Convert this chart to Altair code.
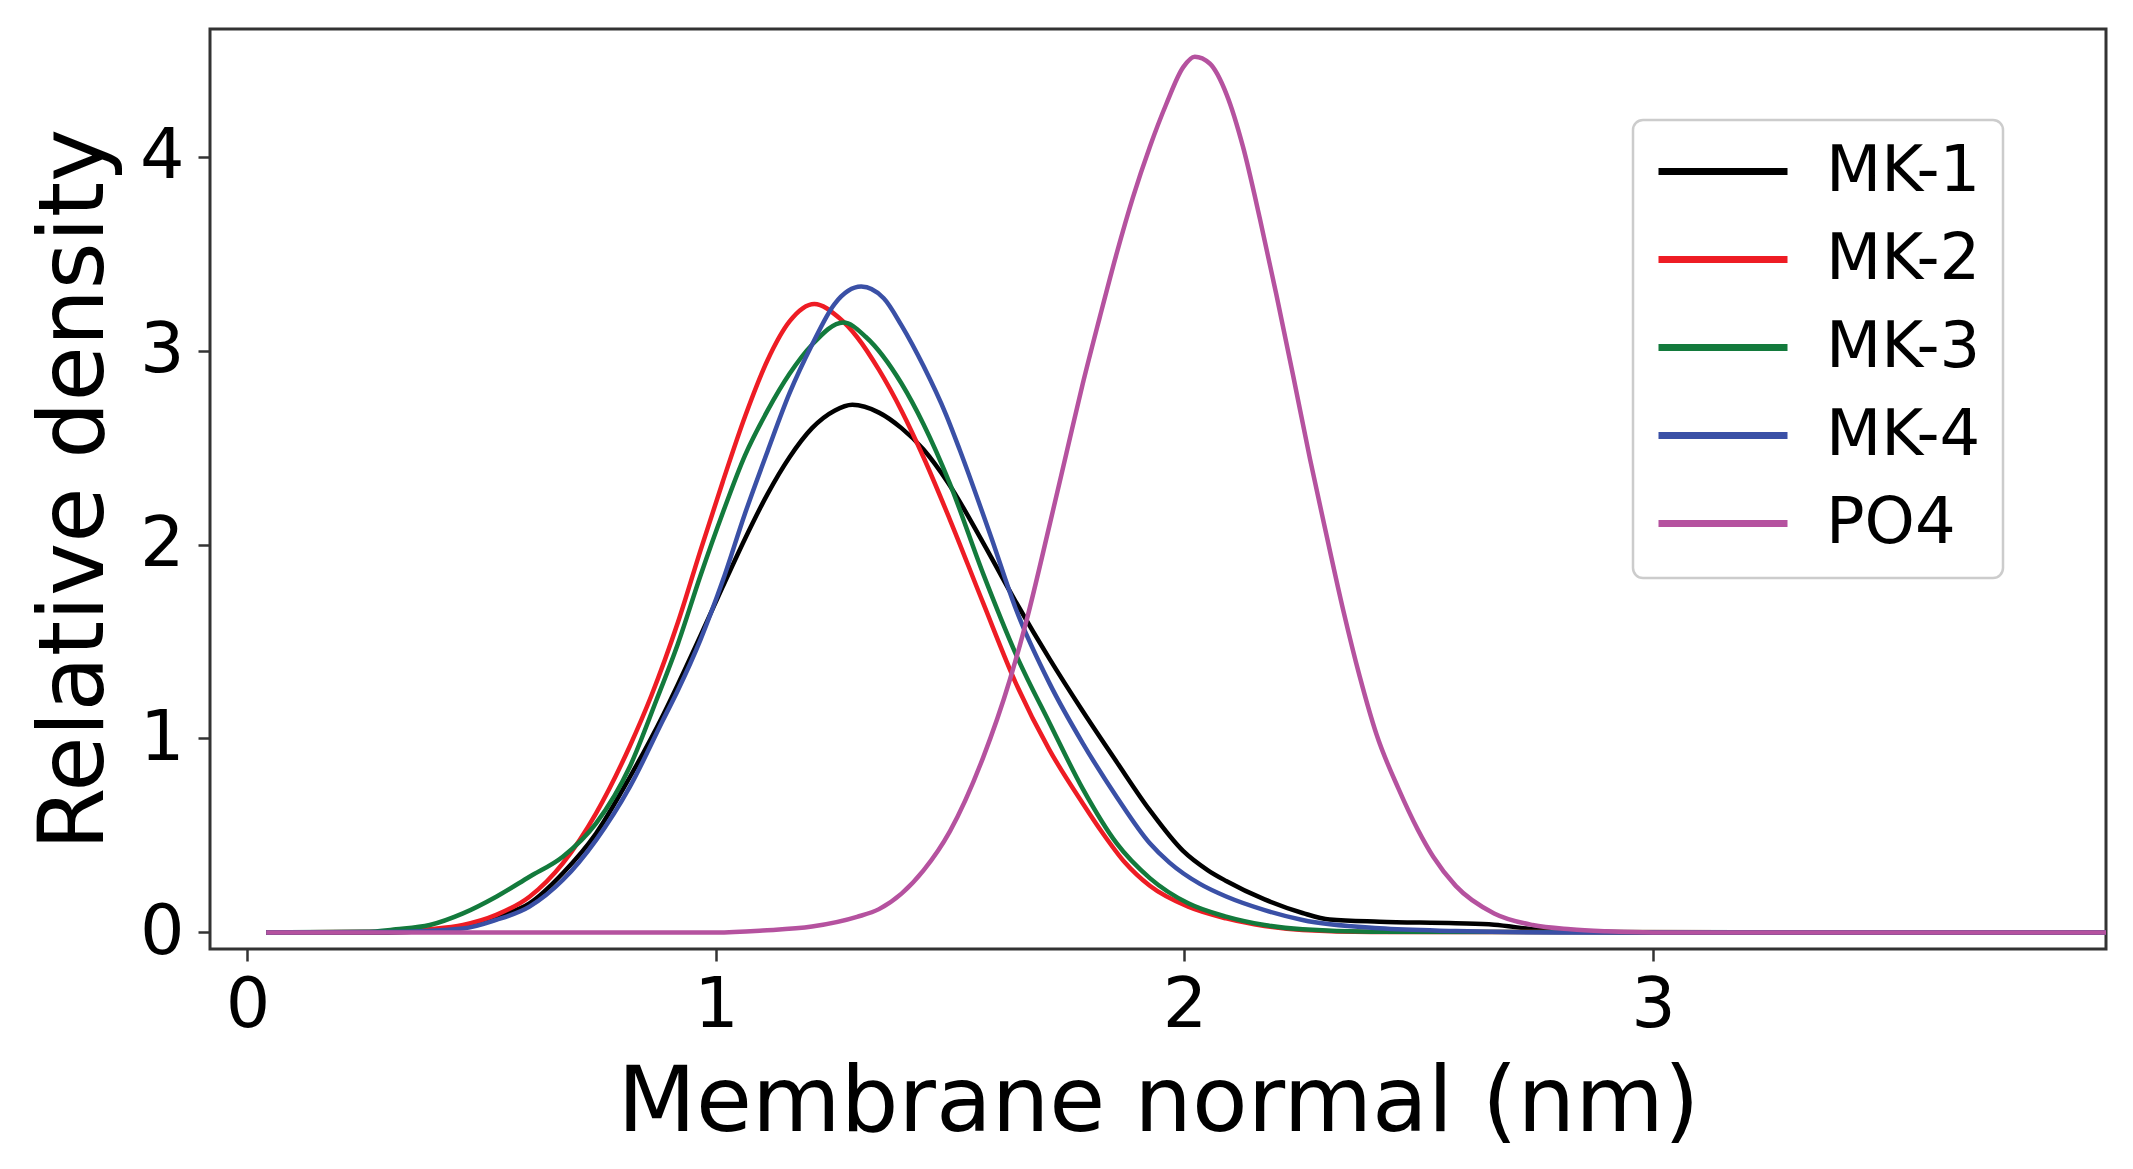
import altair as alt
import pandas as pd

# ---- data ----
series_names = ["MK-1", "MK-2", "MK-3", "MK-4", "PO4"]
series_colors = ["#000000", "#ee1c24", "#137a3c", "#3a50a6", "#b5529f"]

mk1_x = [0.04, 0.30, 0.46, 0.531, 0.602, 0.673, 0.744, 0.816, 0.887, 0.919, 0.967, 1.014, 1.062,
         1.110, 1.157, 1.205, 1.253, 1.291, 1.348, 1.396, 1.443, 1.495, 1.570, 1.641, 1.712,
         1.783, 1.855, 1.926, 1.997, 2.05, 2.089, 2.171, 2.252, 2.310, 2.416, 2.579, 2.661,
         2.743, 2.824, 3.0, 3.967]
mk1_y = [0.0, 0.0, 0.03, 0.081, 0.15, 0.305, 0.51, 0.80, 1.12, 1.28, 1.53, 1.78, 2.03,
         2.26, 2.45, 2.60, 2.69, 2.72, 2.68, 2.60, 2.49, 2.32, 2.01, 1.70, 1.41,
         1.14, 0.88, 0.63, 0.42, 0.32, 0.265, 0.17, 0.10, 0.066, 0.055, 0.047, 0.04,
         0.016, 0.003, 0.0, 0.0]

mk2_x = [0.04, 0.30, 0.389, 0.46, 0.531, 0.602, 0.673, 0.744, 0.816, 0.862, 0.919, 0.967, 1.014,
         1.062, 1.110, 1.157, 1.21, 1.262, 1.301, 1.348, 1.396, 1.443, 1.499, 1.570, 1.641,
         1.712, 1.783, 1.826, 1.873, 1.926, 2.008, 2.089, 2.171, 2.252, 2.40, 3.967]
mk2_y = [0.0, 0.003, 0.016, 0.038, 0.09, 0.184, 0.356, 0.614, 0.96, 1.22, 1.60, 1.97, 2.32,
         2.66, 2.95, 3.15, 3.24, 3.17, 3.07, 2.90, 2.69, 2.45, 2.13, 1.70, 1.28,
         0.94, 0.665, 0.51, 0.36, 0.24, 0.132, 0.072, 0.033, 0.012, 0.002, 0.0]

mk3_x = [0.04, 0.25, 0.317, 0.389, 0.46, 0.531, 0.602, 0.673, 0.744, 0.816, 0.873, 0.919, 0.967,
         1.014, 1.062, 1.110, 1.157, 1.205, 1.272, 1.32, 1.396, 1.443, 1.499, 1.570, 1.641,
         1.712, 1.783, 1.855, 1.926, 2.008, 2.089, 2.171, 2.252, 2.40, 3.967]
mk3_y = [0.0, 0.003, 0.016, 0.038, 0.098, 0.184, 0.287, 0.39, 0.562, 0.854, 1.198, 1.49, 1.84,
         2.16, 2.46, 2.69, 2.88, 3.03, 3.145, 3.07, 2.83, 2.62, 2.315, 1.851, 1.43,
         1.08, 0.74, 0.46, 0.28, 0.15, 0.081, 0.038, 0.016, 0.003, 0.0]

mk4_x = [0.04, 0.30, 0.46, 0.531, 0.602, 0.673, 0.744, 0.816, 0.887, 0.919, 0.967, 1.014, 1.062,
         1.110, 1.157, 1.205, 1.253, 1.31, 1.358, 1.396, 1.443, 1.491, 1.520, 1.587, 1.641,
         1.712, 1.783, 1.855, 1.926, 1.968, 2.033, 2.089, 2.171, 2.252, 2.416, 2.579, 2.8, 3.967]
mk4_y = [0.0, 0.002, 0.02, 0.064, 0.133, 0.27, 0.476, 0.75, 1.095, 1.25, 1.51, 1.81, 2.16,
         2.48, 2.78, 3.03, 3.24, 3.33, 3.27, 3.13, 2.92, 2.67, 2.49, 2.04, 1.662,
         1.284, 0.975, 0.70, 0.46, 0.36, 0.25, 0.185, 0.115, 0.064, 0.021, 0.007, 0.0, 0.0]

po4_x = [0.04, 1.0, 1.1, 1.205, 1.301, 1.348, 1.396, 1.443, 1.499, 1.570, 1.627, 1.662, 1.712,
         1.748, 1.782, 1.819, 1.854, 1.890, 1.926, 1.961, 1.997, 2.022, 2.054, 2.090, 2.125,
         2.161, 2.196, 2.232, 2.268, 2.303, 2.339, 2.374, 2.410, 2.457, 2.498, 2.531, 2.579,
         2.661, 2.743, 2.824, 2.9, 3.0, 3.967]
po4_y = [0.0, 0.0, 0.01, 0.03, 0.08, 0.12, 0.20, 0.32, 0.52, 0.90, 1.30, 1.60, 2.10,
         2.47, 2.82, 3.17, 3.49, 3.79, 4.05, 4.27, 4.46, 4.515, 4.48, 4.32, 4.05,
         3.68, 3.29, 2.87, 2.44, 2.05, 1.66, 1.32, 1.02, 0.74, 0.53, 0.39, 0.24,
         0.098, 0.038, 0.016, 0.006, 0.0, 0.0]

x_ticks = [0, 1, 2, 3]
y_ticks = [0, 1, 2, 3, 4]

all_x = [mk1_x, mk2_x, mk3_x, mk4_x, po4_x]
all_y = [mk1_y, mk2_y, mk3_y, mk4_y, po4_y]

rows = []
for name, xs, ys in zip(series_names, all_x, all_y):
    for xv, yv in zip(xs, ys):
        rows.append({"x": xv, "y": yv, "series": name})
df = pd.DataFrame(rows)

FONT = "DejaVu Sans"

chart = alt.Chart(df).mark_line(strokeWidth=4.5, interpolate="monotone", clip=True).encode(
    x=alt.X("x:Q",
            scale=alt.Scale(domain=[-0.08, 3.967], nice=False, zero=False),
            axis=alt.Axis(values=x_ticks, title="Membrane normal (nm)", format="d",
                          grid=False, domain=False, tickSize=12, tickWidth=2.5,
                          tickColor="#333333", labelFontSize=70, labelFont=FONT,
                          labelColor="#000000", labelPadding=10,
                          titleFontSize=91, titleFont=FONT, titleFontWeight="normal",
                          titleColor="#000000", titlePadding=18)),
    y=alt.Y("y:Q",
            scale=alt.Scale(domain=[-0.0856, 4.658], nice=False, zero=False),
            axis=alt.Axis(values=y_ticks, title="Relative density", format="d",
                          grid=False, domain=False, tickSize=12, tickWidth=2.5,
                          tickColor="#333333", labelFontSize=70, labelFont=FONT,
                          labelColor="#000000", labelPadding=14,
                          titleFontSize=90, titleFont=FONT, titleFontWeight="normal",
                          titleColor="#000000", titlePadding=18)),
    color=alt.Color("series:N",
                    scale=alt.Scale(domain=series_names, range=series_colors),
                    sort=series_names,
                    legend=alt.Legend(title=None, orient="none", legendX=1423, legendY=91,
                                      symbolType="stroke", symbolSize=16641,
                                      symbolStrokeWidth=7, labelFontSize=64,
                                      labelFont=FONT, labelColor="#000000",
                                      labelOffset=35, padding=22, rowPadding=23,
                                      clipHeight=59,
                                      strokeColor="#cccccc", fillColor="#ffffff",
                                      cornerRadius=10)),
).properties(
    width=1896,
    height=920,
    autosize=alt.AutoSizeParams(type="none"),
    padding={"left": 202, "top": 21, "right": 19, "bottom": 210},
).configure_view(
    stroke="#333333", strokeWidth=3
).configure_legend(
    strokeWidth=2.5
)

chart.save("out.html", embed_options={"renderer": "svg", "actions": False})
